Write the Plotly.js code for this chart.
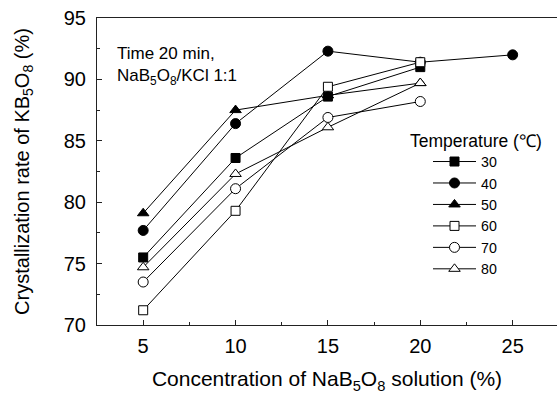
<!DOCTYPE html>
<html>
<head>
<meta charset="utf-8">
<script src="https://cdn.plot.ly/plotly-3.0.1.min.js"></script>
<style>html,body{margin:0;padding:0;background:#fff;}#chart{width:557px;height:394px;}</style>
</head>
<body>
<div id="chart"></div>
<script>
// Data
const concentration = [5, 10, 15, 20, 25];
const temperatures = ['30', '40', '50', '60', '70', '80'];
const rate30 = [75.5, 83.6, 88.6, 91.0];
const rate40 = [77.7, 86.4, 92.3, 91.4, 92.0];
const rate50 = [79.1, 87.5, 88.7, 89.7];
const rate60 = [71.2, 79.3, 89.4, 91.4];
const rate70 = [73.5, 81.1, 86.9, 88.2];
const rate80 = [74.7, 82.3, 86.1, 89.7];

const FONT = 'Arial, "Liberation Sans", sans-serif';

function series(name, vals, symbol, filled, size, rank) {
  return {
    type: 'scatter', mode: 'lines+markers', name: name,
    x: concentration.slice(0, vals.length), y: vals,
    line: {color: '#000', width: 1},
    marker: {symbol: symbol, size: size, color: filled ? '#000' : '#fff',
             line: {color: '#000', width: 1}},
    legendrank: rank
  };
}

// drawing order chosen so hidden points are covered as in the reference
const traces = [
  series(temperatures[2], rate50, 'triangle-up', true, 10, 3),
  series(temperatures[1], rate40, 'circle', true, 10, 2),
  series(temperatures[0], rate30, 'square', true, 9, 1),
  series(temperatures[3], rate60, 'square', false, 9, 4),
  series(temperatures[4], rate70, 'circle', false, 10, 5),
  series(temperatures[5], rate80, 'triangle-up', false, 10, 6)
];

const L = 97, T = 17.5, W = 460, H = 307.5;
const px = v => (v - L) / W;
const py = v => (T + H - v) / H;

const layout = {
  width: 557, height: 394,
  margin: {l: L, r: 0, t: T, b: 394 - T - H, pad: 0},
  paper_bgcolor: '#fff', plot_bgcolor: '#fff',
  font: {family: FONT, color: '#000', size: 16},
  showlegend: true,
  legend: {x: px(428), y: py(145.5), xanchor: 'left', yanchor: 'top',
           bgcolor: 'rgba(0,0,0,0)', borderwidth: 0, itemwidth: 43,
           font: {family: FONT, size: 14.2, color: '#000'},
           tracegroupgap: 0},
  xaxis: {
    range: [2.5, 27.4], dtick: 5, tick0: 0,
    showgrid: false, zeroline: false,
    showline: true, linecolor: '#222', linewidth: 1, mirror: true,
    ticks: 'inside', ticklen: 5, tickcolor: '#222', tickwidth: 1,
    minor: {dtick: 2.5, ticks: 'inside', ticklen: 3, tickcolor: '#222', showgrid: false},
    tickfont: {family: FONT, size: 20},
    ticklabelstandoff: 3,
    title: {text: 'Concentration of NaB<sub>5</sub>O<sub>8</sub> solution (%)',
            font: {family: FONT, size: 21}, standoff: 15}
  },
  yaxis: {
    range: [70, 95], dtick: 5, tick0: 0,
    showgrid: false, zeroline: false,
    showline: true, linecolor: '#222', linewidth: 1, mirror: false,
    ticks: 'inside', ticklen: 5, tickcolor: '#222', tickwidth: 1,
    minor: {dtick: 2.5, ticks: 'inside', ticklen: 3, tickcolor: '#222', showgrid: false},
    tickfont: {family: FONT, size: 20},
    ticklabelstandoff: 6,
    title: {text: 'Crystallization rate of KB<sub>5</sub>O<sub>8</sub> (%)',
            font: {family: FONT, size: 20}, standoff: 28}
  },
  annotations: [
    {xref: 'paper', yref: 'paper', x: px(115), y: py(66), xanchor: 'left', yanchor: 'middle',
     align: 'left', showarrow: false,
     text: 'Time 20 min,<br>NaB<sub>5</sub>O<sub>8</sub>/KCl 1:1',
     font: {family: FONT, size: 17, color: '#000'}},
    {xref: 'paper', yref: 'paper', x: px(408), y: py(141), xanchor: 'left', yanchor: 'middle',
     showarrow: false, text: 'Temperature (℃)',
     font: {family: FONT, size: 17.5, color: '#000'}}
  ]
};

Plotly.newPlot('chart', traces, layout, {displayModeBar: false, staticPlot: true});
</script>
</body>
</html>
